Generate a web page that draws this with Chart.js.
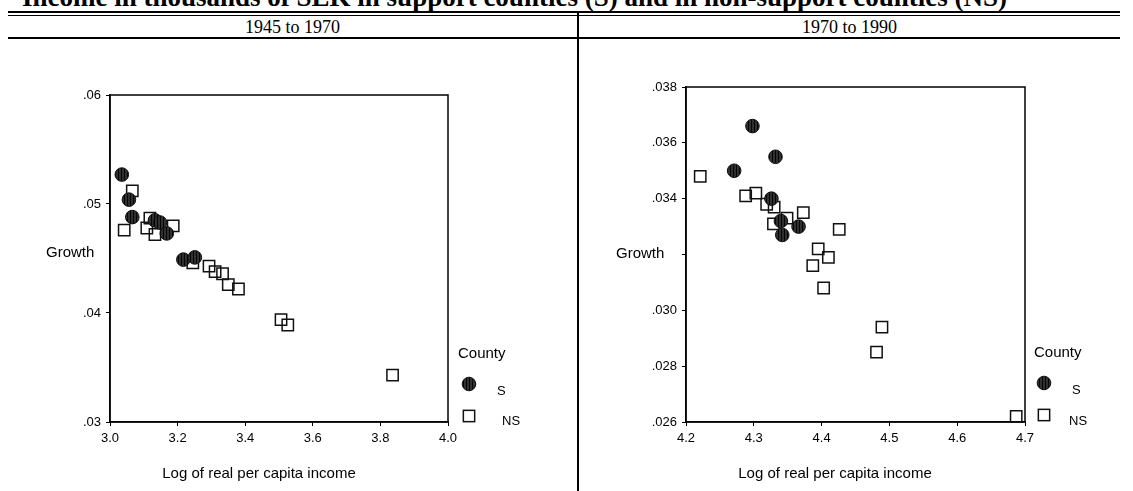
<!DOCTYPE html>
<html><head><meta charset="utf-8">
<script src="https://cdn.jsdelivr.net/npm/chart.js@4.4.1/dist/chart.umd.min.js"></script>
<style>
html,body{margin:0;padding:0;background:#fff;}
body{width:1133px;height:491px;overflow:hidden;position:relative;}
.title{position:absolute;left:22px;top:-16px;font:bold 27px/27px "Liberation Serif",serif;white-space:nowrap;color:#000;}
.line{position:absolute;background:#000;}
.hdr{position:absolute;top:16px;font:18px/22px "Liberation Serif",serif;text-align:center;color:#000;}
.wrap{position:absolute;top:40px;height:451px;}
</style></head><body>
<div class="title">Income in thousands of SEK in support counties (S) and in non-support counties (NS)</div>
<div class="line" style="left:8px;top:11px;width:1112px;height:2px"></div>
<div class="line" style="left:8px;top:15px;width:1112px;height:1px"></div>
<div class="hdr" style="left:8px;width:569px">1945 to 1970</div>
<div class="hdr" style="left:579px;width:541px">1970 to 1990</div>
<div class="line" style="left:8px;top:37px;width:1112px;height:2px"></div>
<div class="line" style="left:577px;top:11px;width:2px;height:480px"></div>
<div class="wrap" style="left:0;width:577px"><canvas id="c1"></canvas></div>
<div class="wrap" style="left:579px;width:554px"><canvas id="c2"></canvas></div>
<script>
// ---- data ----
const seriesLabels = ['S', 'NS'];
const legendTitle = 'County';
const yTitle = 'Growth';
const xTitle = 'Log of real per capita income';

const leftSX = [3.035, 3.056, 3.066, 3.133, 3.148, 3.168, 3.217, 3.251];
const leftSY = [0.0527, 0.0504, 0.0488, 0.0485, 0.0483, 0.0473, 0.0449, 0.0451];
const leftNSX = [3.066, 3.042, 3.118, 3.109, 3.133, 3.187, 3.245, 3.293, 3.311, 3.333, 3.350, 3.380, 3.506, 3.526, 3.836];
const leftNSY = [0.0512, 0.0476, 0.0487, 0.0478, 0.0472, 0.0480, 0.0446, 0.0443, 0.0438, 0.0436, 0.0426, 0.0422, 0.0394, 0.0389, 0.0343];

const rightSX = [4.298, 4.332, 4.271, 4.326, 4.340, 4.366, 4.342];
const rightSY = [0.0366, 0.0355, 0.0350, 0.0340, 0.0332, 0.0330, 0.0327];
const rightNSX = [4.221, 4.288, 4.303, 4.319, 4.330, 4.349, 4.329, 4.373, 4.426, 4.395, 4.410, 4.387, 4.403, 4.489, 4.481, 4.687];
const rightNSY = [0.0348, 0.0341, 0.0342, 0.0338, 0.0337, 0.0333, 0.0331, 0.0335, 0.0329, 0.0322, 0.0319, 0.0316, 0.0308, 0.0294, 0.0285, 0.0262];

const leftXTicks = [3.0, 3.2, 3.4, 3.6, 3.8, 4.0];
const leftXTickLabels = ['3.0', '3.2', '3.4', '3.6', '3.8', '4.0'];
const leftYTicks = [0.03, 0.04, 0.05, 0.06];
const leftYTickLabels = ['.03', '.04', '.05', '.06'];
const rightXTicks = [4.2, 4.3, 4.4, 4.5, 4.6, 4.7];
const rightXTickLabels = ['4.2', '4.3', '4.4', '4.5', '4.6', '4.7'];
const rightYTicks = [0.026, 0.028, 0.030, 0.032, 0.034, 0.036, 0.038];
const rightYTickLabels = ['.026', '.028', '.030', '', '.034', '.036', '.038'];

// ---- drawing ----
const SANS = '"Liberation Sans", Arial, sans-serif';
Chart.defaults.font.family = SANS;
Chart.defaults.color = '#000';

function makePattern(ctx) {
  const pc = document.createElement('canvas');
  pc.width = 3; pc.height = 4;
  const p = pc.getContext('2d');
  p.fillStyle = '#303030'; p.fillRect(0, 0, 3, 4);
  p.fillStyle = '#050505'; p.fillRect(1, 0, 1, 4);
  return ctx.createPattern(pc, 'repeat');
}

const decor = {
  id: 'decor',
  beforeDatasetsDraw(chart) {
    const a = chart.chartArea, c = chart.ctx;
    c.save();
    c.strokeStyle = '#000'; c.lineWidth = 1.5;
    c.strokeRect(a.left, a.top, a.right - a.left, a.bottom - a.top);
    c.restore();
  },
  afterDraw(chart, args, o) {
    const c = chart.ctx;
    c.save();
    c.fillStyle = '#000';
    c.textBaseline = 'middle';
    c.font = '15px ' + SANS;
    c.textAlign = 'left';
    c.fillText(yTitle, o.growth[0], o.growth[1]);
    c.textAlign = 'center';
    c.fillText(xTitle, o.xt[0], o.xt[1]);
    c.textAlign = 'left';
    c.fillText(legendTitle, o.county[0], o.county[1]);
    const dsS = chart.data.datasets[0], dsN = chart.data.datasets[1];
    c.beginPath();
    c.arc(o.circ[0], o.circ[1], dsS.pointRadius, 0, Math.PI * 2);
    c.fillStyle = dsS.backgroundColor; c.fill();
    c.strokeStyle = dsS.borderColor; c.lineWidth = dsS.borderWidth; c.stroke();
    const h = dsN.pointRadius * Math.SQRT1_2;
    c.strokeStyle = dsN.borderColor; c.lineWidth = dsN.borderWidth;
    c.strokeRect(o.sq[0] - h, o.sq[1] - h, 2 * h, 2 * h);
    c.fillStyle = '#000';
    c.font = '13px ' + SANS;
    c.fillText(dsS.label, o.sl[0], o.sl[1]);
    c.fillText(dsN.label, o.nl[0], o.nl[1]);
    c.restore();
  }
};

function pts(xs, ys) { return xs.map((x, i) => ({ x: x, y: ys[i] })); }

function build(id, sx, sy, nx, ny, xr, xt, xl, yr, yt, yl, pad, yW, deco) {
  const canvas = document.getElementById(id);
  const ctx = canvas.getContext('2d');
  const pattern = makePattern(ctx);
  const tickFont = { family: SANS, size: 13 };
  return new Chart(ctx, {
    type: 'scatter',
    data: {
      datasets: [
        { label: seriesLabels[0], data: pts(sx, sy), pointStyle: 'circle', pointRadius: 6.8,
          backgroundColor: pattern, borderColor: '#111', borderWidth: 1, clip: false },
        { label: seriesLabels[1], data: pts(nx, ny), pointStyle: 'rect', pointRadius: 8,
          backgroundColor: 'rgba(0,0,0,0)', borderColor: '#111', borderWidth: 1.5, clip: false }
      ]
    },
    options: {
      responsive: true, maintainAspectRatio: false, animation: false, events: [],
      layout: { padding: pad },
      plugins: { legend: { display: false }, tooltip: { enabled: false }, decor: deco },
      scales: {
        x: {
          type: 'linear', min: xr[0], max: xr[1],
          afterBuildTicks: s => { s.ticks = xt.map(v => ({ value: v })); },
          afterFit: s => { s.height = 69; },
          ticks: { callback: (v, i) => xl[i], font: tickFont, color: '#000', padding: 5, maxRotation: 0, autoSkip: false },
          grid: { display: true, drawOnChartArea: false, drawTicks: true, tickLength: 4, color: '#000', lineWidth: 1 },
          border: { display: true, color: '#000', width: 1.5 }
        },
        y: {
          type: 'linear', min: yr[0], max: yr[1],
          afterBuildTicks: s => { s.ticks = yt.map(v => ({ value: v })); },
          afterFit: s => { s.width = yW; },
          ticks: { callback: (v, i) => yl[i], font: tickFont, color: '#000', padding: 5, autoSkip: false },
          grid: { display: true, drawOnChartArea: false, drawTicks: true, tickLength: 4, color: '#000', lineWidth: 1 },
          border: { display: true, color: '#000', width: 1.5 }
        }
      }
    },
    plugins: [decor]
  });
}

build('c1', leftSX, leftSY, leftNSX, leftNSY,
  [3.0, 4.0], leftXTicks, leftXTickLabels,
  [0.03, 0.06], leftYTicks, leftYTickLabels,
  { left: 0, right: 129, top: 55, bottom: 0 }, 110,
  { growth: [46, 213], xt: [259, 434], county: [458, 314], circ: [469, 344], sq: [469, 376], sl: [497, 351], nl: [502, 381] });

build('c2', rightSX, rightSY, rightNSX, rightNSY,
  [4.2, 4.7], rightXTicks, rightXTickLabels,
  [0.026, 0.038], rightYTicks, rightYTickLabels,
  { left: 0, right: 108, top: 47, bottom: 0 }, 107,
  { growth: [37, 214], xt: [256, 434], county: [455, 313], circ: [465, 343], sq: [465, 375], sl: [493, 350], nl: [490, 381] });
</script>
</body></html>
